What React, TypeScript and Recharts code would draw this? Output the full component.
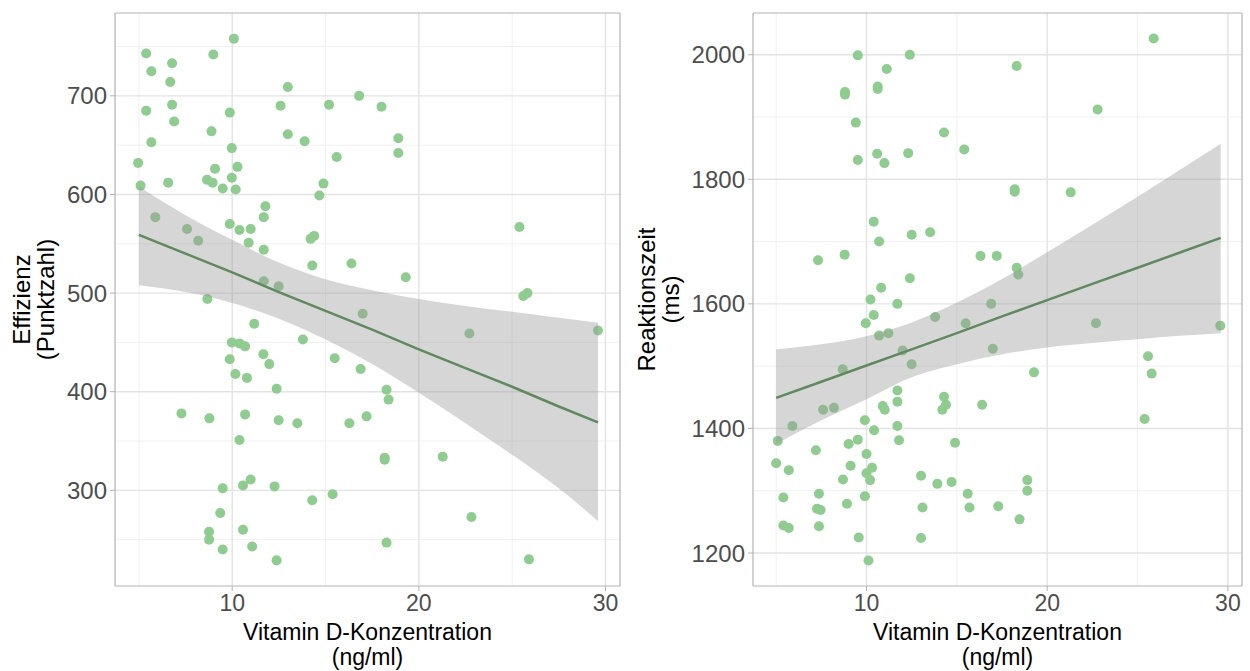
import React from 'react';
import { ComposedChart, Scatter, Area, Line, XAxis, YAxis, CartesianGrid } from 'recharts';

// Effizienz panel (left)
const vitdEff = [
  10.09, 5.39, 8.99, 6.78, 5.67, 6.68, 12.98, 5.39, 6.78, 6.89, 12.59, 9.87, 15.19, 16.8, 18.0,
  5.67, 8.89, 12.98, 13.88, 18.9, 18.9, 9.98, 15.6, 4.96, 10.28, 9.08, 5.09, 6.57, 8.65, 8.95,
  9.98, 9.49, 10.19, 14.89, 14.67, 11.78, 11.69, 5.88, 9.87, 10.39, 10.99, 7.58, 8.18, 10.88, 11.69,
  14.2, 14.39, 25.39, 14.29, 16.39, 19.3, 11.69, 12.49, 8.67, 25.6, 25.82, 16.99, 11.18, 22.71, 29.6,
  9.98, 10.39, 10.69, 13.79, 9.87, 11.67, 11.99, 15.49, 16.88, 10.17, 10.79, 12.38, 18.27, 18.38, 7.28,
  8.78, 10.69, 12.49, 13.49, 16.28, 17.2, 10.39, 18.17, 18.17, 21.28, 9.49, 10.58, 10.99, 12.27, 14.29,
  15.38, 9.36, 22.82, 8.76, 8.76, 10.58, 9.49, 11.07, 18.27, 12.38, 25.9,
];
const effizienz = [
  758, 743, 742, 733, 725, 714, 709, 685, 691, 674, 690, 683, 691, 700, 689,
  653, 664, 661, 654, 657, 642, 647, 638, 632, 628, 626, 609, 612, 615, 612,
  617, 606, 605, 611, 599, 588, 577, 577, 570, 564, 565, 565, 553, 551, 544,
  555, 558, 567, 528, 530, 516, 512, 507, 494, 497, 500, 479, 469, 459, 462,
  450, 449, 446, 453, 433, 438, 428, 434, 423, 418, 414, 403, 402, 392, 378,
  373, 377, 371, 368, 368, 375, 351, 333, 331, 334, 302, 305, 311, 304, 290,
  296, 277, 273, 258, 250, 260, 240, 243, 247, 229, 230,
];

// Reaktionszeit panel (right)
const vitdRt = [
  25.89, 9.52, 12.4, 11.12, 18.31, 8.81, 8.81, 10.62, 10.62, 9.41, 22.79, 14.29, 15.41, 9.52, 10.59,
  10.99, 12.31, 18.2, 18.2, 21.3, 10.4, 12.5, 13.52, 10.7, 7.32, 8.79, 16.31, 17.21, 18.31, 18.4,
  12.4, 10.81, 10.22, 11.71, 16.9, 10.4, 13.8, 9.96, 15.49, 22.7, 29.58, 10.7, 11.21, 12.0, 16.99,
  8.68, 12.5, 25.58, 25.78, 19.27, 11.71, 11.71, 14.29, 14.4, 14.2, 10.9, 11.01, 7.6, 8.2, 16.4,
  25.39, 5.9, 9.91, 10.42, 11.71, 5.09, 9.52, 9.01, 11.8, 14.9, 7.2, 10.0, 5.0, 9.12, 10.31,
  5.7, 10.0, 13.02, 8.7, 10.2, 13.92, 14.71, 18.9, 18.9, 7.37, 15.6, 5.4, 9.91, 8.92, 7.26,
  7.46, 13.1, 15.7, 17.29, 18.47, 5.4, 5.7, 7.37, 9.57, 13.02, 10.11,
];
const reaktionszeit = [
  2026, 1999, 2000, 1977, 1982, 1940, 1936, 1949, 1945, 1891, 1912, 1875, 1848, 1831, 1841,
  1826, 1842, 1784, 1780, 1779, 1732, 1711, 1715, 1700, 1670, 1679, 1677, 1677, 1658, 1647,
  1641, 1626, 1607, 1600, 1600, 1582, 1579, 1569, 1569, 1569, 1565, 1549, 1553, 1525, 1528,
  1495, 1503, 1516, 1488, 1490, 1461, 1443, 1451, 1438, 1430, 1436, 1430, 1430, 1433, 1438,
  1415, 1404, 1413, 1397, 1404, 1380, 1382, 1375, 1381, 1377, 1365, 1359, 1344, 1340, 1337,
  1333, 1328, 1324, 1318, 1317, 1311, 1314, 1317, 1300, 1295, 1295, 1289, 1291, 1279, 1271,
  1269, 1273, 1273, 1275, 1254, 1244, 1240, 1243, 1225, 1224, 1188,
];

// regression line + confidence band
const fitX = [5, 7.5, 10, 12.5, 15, 17.5, 20, 22.5, 25, 27.5, 29.6];
const effFit = [559, 540, 521, 501, 482, 463, 443, 424, 405, 385, 369];
const effLower = [508, 501, 490, 474, 453, 428, 399, 368, 336, 302, 269];
const effUpper = [608, 579, 554, 531, 514, 503, 494, 487, 481, 475, 470];
const rtFit = [1449, 1475, 1501, 1527, 1553, 1580, 1606, 1632, 1658, 1684, 1706];
const rtLower = [1375, 1413, 1447, 1482, 1503, 1519, 1530, 1537, 1543, 1549, 1553];
const rtUpper = [1527, 1535, 1548, 1570, 1602, 1640, 1683, 1727, 1772, 1818, 1857];

const xDomain = [3.72, 30.78];
const xTicks = [10, 20, 30];
const xMinor = [5, 15, 25];
const effDomain = [203, 784];
const effTicks = [300, 400, 500, 600, 700];
const effMinor = [250, 350, 450, 550, 650, 750];
const rtDomain = [1147, 2067];
const rtTicks = [1200, 1400, 1600, 1800, 2000];
const rtMinor = [1300, 1500, 1700, 1900];

const POINT = '#8fcc8f';
const FIT = '#5f8a5f';

const dot = (p: any) => <circle cx={p.cx} cy={p.cy} r={5} fill={POINT} />;

const xTitle = (props: any) => {
  const { x, y, width } = props.viewBox;
  const cx = x + width / 2;
  return (
    <text x={cx} y={y + 53.5} textAnchor="middle" fontSize={23} fill="#000">
      <tspan x={cx} dy={0}>Vitamin D-Konzentration</tspan>
      <tspan x={cx} dy={25.8}>(ng/ml)</tspan>
    </text>
  );
};

const yTitle = (lines: string[]) => (props: any) => {
  const { x, y, height } = props.viewBox;
  const cx = x + 22;
  const cy = y + height / 2;
  return (
    <text transform={`rotate(-90 ${cx} ${cy})`} x={cx} y={cy} textAnchor="middle" fontSize={24} fill="#000">
      <tspan x={cx} dy="0.35em">{lines[0]}</tspan>
      <tspan x={cx} dy={24}>{lines[1]}</tspan>
    </text>
  );
};

function Panel({ xs, ys, fit, lower, upper, yDomain, yTicks, yMinor, title, yWidth, right }: any) {
  const points = xs.map((x: number, i: number) => ({ x, y: ys[i] }));
  const rows = fitX.map((x, i) => ({ x, fit: fit[i], band: [lower[i], upper[i]] }));
  return (
    <ComposedChart width={625} height={671} data={rows} margin={{ top: 13, right, bottom: 0, left: 0 }}>
      <CartesianGrid horizontalValues={yMinor} verticalValues={xMinor} stroke="#f0f0f0" strokeWidth={1} />
      <CartesianGrid horizontalValues={yTicks} verticalValues={xTicks} stroke="#e3e3e3" strokeWidth={1.4} />
      <CartesianGrid horizontalValues={yDomain} verticalValues={xDomain} stroke="#b3b3b3" strokeWidth={1.2} />
      <XAxis
        type="number"
        dataKey="x"
        domain={xDomain}
        ticks={xTicks}
        allowDataOverflow
        axisLine={false}
        tickSize={5}
        tickMargin={4}
        tickLine={{ stroke: '#b3b3b3' }}
        tick={{ fill: '#4d4d4d', fontSize: 23 }}
        height={85}
        label={xTitle}
      />
      <YAxis
        type="number"
        domain={yDomain}
        ticks={yTicks}
        allowDataOverflow
        axisLine={false}
        width={yWidth}
        tickSize={5}
        tickMargin={3}
        tickLine={{ stroke: '#b3b3b3' }}
        tick={{ fill: '#4d4d4d', fontSize: 24 }}
        label={yTitle(title)}
      />
      <Scatter data={points} dataKey="y" shape={dot} isAnimationActive={false} />
      <Area dataKey="band" type="monotone" fill="#999999" fillOpacity={0.4} stroke="none" zIndex={650} isAnimationActive={false} />
      <Line dataKey="fit" type="linear" stroke={FIT} strokeWidth={2.5} dot={false} zIndex={700} isAnimationActive={false} />
    </ComposedChart>
  );
}

export default function App() {
  return (
    <div style={{ position: 'absolute', left: 0, top: 0, width: 1250, height: 671, display: 'flex', background: '#fff', fontFamily: '"Liberation Sans", Arial, sans-serif' }}>
      <Panel xs={vitdEff} ys={effizienz} fit={effFit} lower={effLower} upper={effUpper}
        yDomain={effDomain} yTicks={effTicks} yMinor={effMinor} title={['Effizienz', '(Punktzahl)']} yWidth={115} right={5} />
      <Panel xs={vitdRt} ys={reaktionszeit} fit={rtFit} lower={rtLower} upper={rtUpper}
        yDomain={rtDomain} yTicks={rtTicks} yMinor={rtMinor} title={['Reaktionszeit', '(ms)']} yWidth={128} right={8} />
    </div>
  );
}
